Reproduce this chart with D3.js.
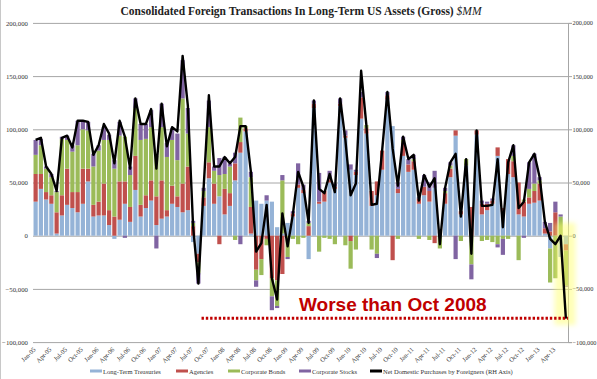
<!DOCTYPE html>
<html><head><meta charset="utf-8">
<script src="https://cdn.jsdelivr.net/npm/d3@7"></script>
<style>body{margin:0;background:#fff}svg{display:block}</style>
</head><body>
<svg id="c" width="597" height="379"></svg>
<script>
const months = ("Jan-05 Feb-05 Mar-05 Apr-05 May-05 Jun-05 Jul-05 Aug-05 Sep-05 Oct-05 Nov-05 Dec-05 " +
"Jan-06 Feb-06 Mar-06 Apr-06 May-06 Jun-06 Jul-06 Aug-06 Sep-06 Oct-06 Nov-06 Dec-06 " +
"Jan-07 Feb-07 Mar-07 Apr-07 May-07 Jun-07 Jul-07 Aug-07 Sep-07 Oct-07 Nov-07 Dec-07 " +
"Jan-08 Feb-08 Mar-08 Apr-08 May-08 Jun-08 Jul-08 Aug-08 Sep-08 Oct-08 Nov-08 Dec-08 " +
"Jan-09 Feb-09 Mar-09 Apr-09 May-09 Jun-09 Jul-09 Aug-09 Sep-09 Oct-09 Nov-09 Dec-09 " +
"Jan-10 Feb-10 Mar-10 Apr-10 May-10 Jun-10 Jul-10 Aug-10 Sep-10 Oct-10 Nov-10 Dec-10 " +
"Jan-11 Feb-11 Mar-11 Apr-11 May-11 Jun-11 Jul-11 Aug-11 Sep-11 Oct-11 Nov-11 Dec-11 " +
"Jan-12 Feb-12 Mar-12 Apr-12 May-12 Jun-12 Jul-12 Aug-12 Sep-12 Oct-12 Nov-12 Dec-12 " +
"Jan-13 Feb-13 Mar-13 Apr-13 May-13 Jun-13").split(" ");

const tickLabels = ["Jan-05","Apr-05","Jul-05","Oct-05","Jan-06","Apr-06","Jul-06","Oct-06",
"Jan-07","Apr-07","Jul-07","Oct-07","Jan-08","Apr-08","Jul-08","Oct-08","Jan-09","Apr-09","Jul-09","Oct-09",
"Jan-10","Apr-10","Jul-10","Oct-10","Jan-11","Apr-11","Jul-11","Oct-11","Jan-12","Apr-12","Jul-12","Oct-12",
"Jan-13","Apr-13"];

// $MM
const treasuries = [32000,44000,34000,30000,2000,19000,29000,26000,22000,30000,51000,18000,
19000,19000,10000,-3000,15000,30000,13000,43000,18000,26000,33000,10000,
16000,18000,30000,27000,22000,24000,-6000,-17000,28000,54000,30000,37000,
20000,28000,52000,78000,98000,2000,33000,30000,33000,32000,8000,2000,
12000,18000,45000,40000,-22000,120000,30000,32000,50000,44000,122000,92000,
62000,57000,110000,96000,28000,38000,62000,128000,103000,40000,75000,60000,
62000,30000,38000,32000,45000,2000,30000,55000,94000,20000,66000,0,
95000,20000,24000,30000,75000,22000,58000,55000,20000,18000,30000,31000,
33000,2000,-12000,0,-20000,-8000];
const agencies = [26000,14000,7000,8000,20000,19000,34000,15000,19000,33000,12000,11000,
13000,30000,14000,18000,36000,21000,14000,32000,11000,12000,19000,27000,
36000,6000,17000,10000,27000,41000,9000,-8000,8000,15000,19000,-8000,
24000,12000,16000,10000,3000,25000,-32000,-22000,-3000,-40000,-42000,-36000,
0,3000,3000,3000,9000,4000,2000,10000,3000,2000,2000,2000,
-5000,3000,20000,5000,14000,13000,18000,4000,-23000,4000,12000,7000,
8000,5000,8000,10000,-7000,0,10000,8000,5000,3000,0,27000,
4000,10000,6000,3000,8000,4000,14000,15000,30000,14000,6000,11000,
16000,5000,4000,22000,0,-6000];
const corpBonds = [18000,27000,22000,17000,19000,53000,27000,38000,44000,37000,36000,36000,
48000,41000,66000,45000,43000,42000,30000,45000,61000,53000,50000,38000,
50000,50000,43000,34000,80000,31000,3000,-10000,6000,33000,12000,20000,
14000,25000,-4000,23000,2000,28000,-10000,-15000,-6000,-17000,-24000,50000,
-20000,-3000,-8000,-2000,3000,0,-15000,-2000,-3000,-8000,0,-9000,
-26000,-13000,0,3000,-13000,-17000,0,0,0,-3000,3000,0,
2000,-3000,0,-4000,0,-12000,2000,3000,0,-5000,6000,-27000,
0,-5000,-4000,-6000,-8000,-3000,-3000,5000,-23000,2000,8000,7000,
3000,0,-32000,-40000,18000,-33000];
const corpStocks = [14000,6000,2000,3000,1000,2000,4000,6000,23000,8000,8000,12000,
5000,12000,5000,8000,13000,-2000,8000,9000,15000,14000,16000,-12000,
22000,13000,11000,25000,36000,24000,2000,-10000,3000,25000,4000,16000,
16000,3000,10000,-8000,0,5000,-6000,0,5000,-13000,-2000,5000,
-2000,2000,20000,5000,2000,3000,27000,0,8000,3000,5000,5000,
5000,2000,5000,0,0,-4000,0,3000,0,6000,3000,5000,
4000,1000,11000,8000,16000,2000,3000,3000,-22000,0,0,-14000,
0,3000,2000,2000,-3000,-15000,0,10000,0,-2000,25000,28000,
3000,6000,8000,10000,2000,-1000];
const netPurchases = [90000,92000,65000,58000,42000,92000,94000,83000,108000,108000,107000,76000,
85000,105000,96000,68000,108000,93000,63000,129000,105000,105000,119000,63000,
124000,84000,102000,98000,169000,122000,8000,-45000,45000,132000,65000,65000,
74000,68000,74000,103000,103000,60000,-15000,-7000,29000,-40000,-60000,21000,
-10000,20000,60000,46000,12000,127000,44000,40000,58000,41000,129000,90000,
38000,49000,155000,104000,29000,30000,80000,135000,82000,47000,93000,72000,
76000,33000,57000,46000,54000,-8000,45000,69000,77000,18000,72000,-17000,
99000,28000,28000,29000,72000,8000,69000,85000,26000,32000,69000,77000,
55000,13000,-3000,-8000,0,-78000];

const seriesNames = ["Long-Term Treasuries","Agencies","Corporate Bonds","Corporate Stocks"];
const seriesColors = ["#95b3d7","#c0504d","#9bbb59","#8064a2"];
const lineName = "Net Domestic Purchases by Foreigners (RH Axis)";
const yTicks = [-100000,-50000,0,50000,100000,150000,200000];

const svg = d3.select("#c");
const defs = svg.append("defs");
defs.append("filter").attr("id","blur2").attr("x","-50%").attr("y","-50%").attr("width","200%").attr("height","200%")
  .append("feGaussianBlur").attr("stdDeviation",2.5);
defs.append("filter").attr("id","blur1").attr("x","-20%").attr("y","-200%").attr("width","140%").attr("height","500%")
  .append("feGaussianBlur").attr("stdDeviation",1.3);

const serif = "'Liberation Serif','Times New Roman',serif";
const L = 33, R = 568.5;
const x = d3.scaleBand().domain(months).range([L, R]).paddingInner(0.2).paddingOuter(0.1);
const y = d3.scaleLinear().domain([-100000, 200000]).range([342.1, 22.9]);
const yRight = y.copy();

// left frame line
svg.append("line").attr("x1",0.5).attr("x2",0.5).attr("y1",0).attr("y2",379).attr("stroke","#c8c8c8");

// gridlines + left labels
const fmt = d3.format(",");
const gLeft = svg.append("g").attr("transform",`translate(${L},0)`)
  .call(d3.axisLeft(y).tickValues(yTicks).tickSize(-(568 - L)).tickPadding(5).tickFormat(fmt));
gLeft.select(".domain").remove();
gLeft.selectAll(".tick line").attr("stroke","#a6a6a6");
gLeft.selectAll(".tick text").attr("font-family",serif).attr("font-size",6.8).attr("fill","#333");

// right axis
const gRight = svg.append("g").attr("transform","translate(568,0)")
  .call(d3.axisRight(yRight).tickValues(yTicks).tickSize(4).tickPadding(0.5).tickFormat(fmt));
gRight.select(".domain").attr("stroke","#a6a6a6");
gRight.selectAll(".tick line").attr("stroke","#a6a6a6");
gRight.selectAll(".tick text").attr("font-family",serif).attr("font-size",6.3).attr("fill","#333");

// stacked bars
const rows = months.map((m,i)=>({m, t:treasuries[i], a:agencies[i], b:corpBonds[i], s:corpStocks[i]}));
const keys = ["t","a","b","s"];
const stack = d3.stack().keys(keys).offset(d3.stackOffsetDiverging)(rows);
svg.append("g").selectAll("g").data(stack).join("g")
  .attr("fill",(d,i)=>seriesColors[i])
  .selectAll("rect").data(d=>d).join("rect")
  .attr("x",d=>x(d.data.m))
  .attr("width",x.bandwidth())
  .attr("y",d=>y(Math.max(d[0],d[1])))
  .attr("height",d=>Math.abs(y(d[0])-y(d[1])));

// highlight glow
svg.append("rect").attr("x",x(months[100])-4).attr("y",y(12000)).attr("width",21)
  .attr("height",y(-84000)-y(12000)).attr("fill","#ffff70").attr("opacity",0.5).attr("filter","url(#blur2)");

// net purchases line
const line = d3.line().x((d,i)=>x(months[i])+x.bandwidth()/2).y(d=>yRight(d));
svg.append("path").datum(netPurchases).attr("d",line).attr("fill","none")
  .attr("stroke","#000").attr("stroke-width",2.4).attr("stroke-linejoin","round");

// x labels
const gx = svg.append("g");
gx.selectAll("text").data(tickLabels).join("text")
  .attr("transform",d=>`translate(${x(d)+x.bandwidth()/2+0.5},350) rotate(-45)`)
  .attr("text-anchor","end").attr("font-family",serif).attr("font-size",6.5).attr("fill","#333")
  .text(d=>d);

// annotation
const refVal = -77500;
svg.append("line").attr("x1",x(months[33])+4).attr("x2",x(months[101])+x.bandwidth())
  .attr("y1",yRight(refVal)+5).attr("y2",yRight(refVal)+5)
  .attr("stroke","#b0b0b0").attr("stroke-width",3).attr("filter","url(#blur1)");
svg.append("line").attr("x1",x(months[32])).attr("x2",x(months[101])+x.bandwidth())
  .attr("y1",yRight(refVal)).attr("y2",yRight(refVal))
  .attr("stroke","#c00000").attr("stroke-width",3).attr("stroke-dasharray","2.4,1.9");
svg.append("text").attr("x",299).attr("y",311)
  .attr("font-family","'Liberation Sans',Arial,sans-serif").attr("font-weight","bold")
  .attr("font-size",19).attr("fill","#c00000").text("Worse than Oct 2008");

// title
const title = svg.append("text").attr("x",301).attr("y",15).attr("text-anchor","middle")
  .attr("font-family",serif).attr("font-size",11.5).attr("fill","#222");
title.append("tspan").attr("font-weight","bold").text("Consolidated Foreign Transactions In Long-Term US Assets (Gross) ");
title.append("tspan").attr("font-style","italic").text("$MM");

// legend
const legendItems = [
  {name:seriesNames[0], color:seriesColors[0], sx:90, tx:103},
  {name:seriesNames[1], color:seriesColors[1], sx:176, tx:189},
  {name:seriesNames[2], color:seriesColors[2], sx:228, tx:241},
  {name:seriesNames[3], color:seriesColors[3], sx:299, tx:312},
  {name:lineName, color:"#000", sx:370, tx:383}
];
const lg = svg.append("g");
lg.selectAll("rect").data(legendItems).join("rect")
  .attr("x",d=>d.sx).attr("y",369.5).attr("width",12).attr("height",3).attr("fill",d=>d.color);
lg.selectAll("text").data(legendItems).join("text")
  .attr("x",d=>d.tx).attr("y",373.5).attr("font-family",serif).attr("font-size",6.5).attr("fill","#333")
  .text(d=>d.name);
</script>
</body></html>
